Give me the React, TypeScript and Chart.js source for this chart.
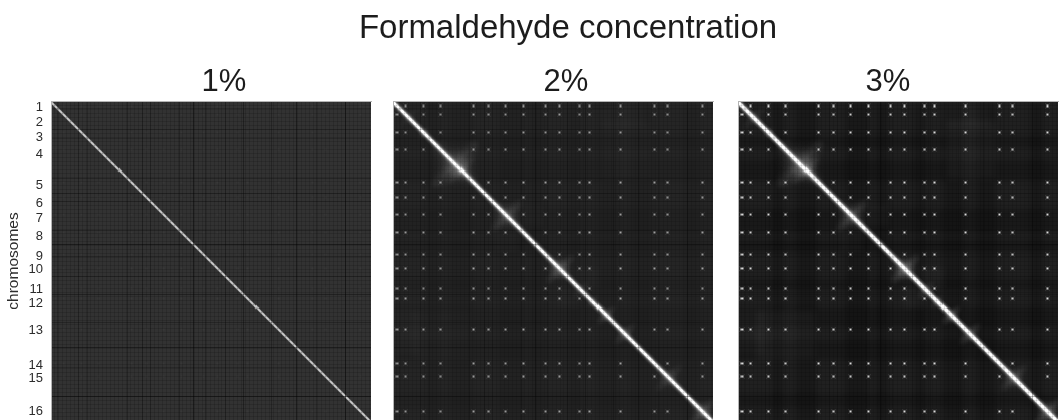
import React, { useEffect, useRef } from "react";
import { Chart, DatasetController, Element, registerables } from "chart.js";

Chart.register(...registerables);

// ---- genome layout (kb) ----
const chromosomes = ["1","2","3","4","5","6","7","8","9","10","11","12","13","14","15","16"];
const chromEndsKb = [230,1043,1359,2891,3468,3738,4829,5392,5832,6578,7245,8323,9247,10031,11122,12071];
const centromeresKb = [151,468,1157,1808,3042,3616,4235,4934,5747,6268,7018,7396,8591,9875,10357,11678];
const labelTicksKb = [189,754,1320,1961,3131,3810,4376,5055,5810,6301,7055,7583,8602,9923,10413,11658];
const genomeKb = 12071;
const visibleKb = 11996;
const fineStepKb = 150;
const binKb = 38;

// ---- per-panel readings ----
const panelNames = ["1%", "2%", "3%"];
const baseGrey = ["50,50,50", "37,37,37", "32,32,32"];
const diagonalProfiles = [
  [0.75, 0.6, 0.12],
  [1, 1, 0.7, 0.35, 0.16, 0.07, 0.03],
  [1, 1, 0.85, 0.45, 0.22, 0.1, 0.05],
];
const centromereDotPeak = [0.03, 0.6, 0.85];
const centromereGain2 = [0.9,0.9,0.9,0.95,1,1,0.95,1,0.95,1,0.95,1,1,0.95,1,0.95];
const centromereGain3 = [1,0.95,1,1,1,1,1,1,0.95,1,1,1,1,1,1,1];

const dotStencil = [
  [0.1,0.03,0.01,0.03,0.1],
  [0.03,0.3,0.5,0.3,0.03],
  [0.01,0.5,1,0.5,0.01],
  [0.03,0.3,0.5,0.3,0.03],
  [0.1,0.03,0.01,0.03,0.1],
];
const blobStencil = [
  [0.3,0.15,0.08,0.1,0.08,0.15,0.3],
  [0.15,0.45,0.3,0.25,0.3,0.45,0.15],
  [0.08,0.3,0.75,0.6,0.75,0.3,0.08],
  [0.1,0.25,0.6,1,0.6,0.25,0.1],
  [0.08,0.3,0.75,0.6,0.75,0.3,0.08],
  [0.15,0.45,0.3,0.25,0.3,0.45,0.15],
  [0.3,0.15,0.08,0.1,0.08,0.15,0.3],
];

// focal enrichment next to the diagonal: centre, half width, strength per panel
const blobCentreKb = [600,1170,2350,2560,3640,4300,6300,7090,7520,8050,8750,9680,10400,11680];
const blobHalfKb = [380,190,830,500,110,560,490,300,230,340,380,190,450,450];
const blobStrength1 = [0,0,0,0,0,0,0,0,0,0,0,0,0,0];
const blobStrength2 = [0.16,0.55,0.32,0.36,0.6,0.35,0.4,0.25,0.4,0.45,0.35,0.3,0.28,0.4];
const blobStrength3 = [0.25,0.6,0.36,0.45,0.65,0.42,0.52,0.38,0.5,0.55,0.4,0.32,0.4,0.48];

// darker bands that run along both axes
const bandStartKb = [1320,2190,4030,5200,6660,7730,8970,11000];
const bandEndKb = [1700,2950,4900,5650,7050,8480,9730,11500];
const bandDark = [0, 0.08, 0.2];

// faint wide rectangles away from the diagonal: x0,x1,y0,y1
const patchX0 = [7840,0,4800,6850];
const patchX1 = [9730,1000,5700,7800];
const patchY0 = [680,7800,3900,6200];
const patchY1 = [2940,9500,4700,7100];
const patchLight = [[0,0,0,0],[0.015,0.015,0.015,0.015],[0.035,0.02,0.025,0.025]];

// darkness of the lines between chromosomes
const boundaryAlpha1 = [0.2,0.2,0.2,0.25,0.25,0.2,0.25,0.45,0.25,0.25,0.32,0.25,0.42,0.2,0.45];
const boundaryAlpha2 = [0.15,0.15,0.15,0.2,0.2,0.15,0.2,0.35,0.2,0.2,0.25,0.2,0.3,0.15,0.3];
const boundaryAlpha3 = [0.1,0.1,0.1,0.12,0.12,0.1,0.15,0.35,0.12,0.12,0.15,0.12,0.2,0.1,0.2];
const fineAlpha = [0.13, 0.09, 0.1];

class CellElement extends Element {
  static id = "cell";
  static defaults = {};
  draw(ctx: any) {
    const e: any = this;
    ctx.fillRect(e.px, e.py, e.pw, e.ph);
  }
}

class HeatController extends DatasetController {
  static id = "heat";
  static defaults = { dataElementType: "cell", datasetElementType: false };
  static overrides = { scales: { x: { type: "linear" }, y: { type: "linear" } } };
  update() {
    const meta: any = this.getMeta();
    this.updateElements(meta.data, 0, meta.data.length);
  }
  updateElements(els: any[], start: number, count: number) {
    const meta: any = this.getMeta();
    const data: any[] = this.getDataset().data as any[];
    for (let i = start; i < start + count; i++) {
      const c = data[i];
      const x0 = Math.round(meta.xScale.getPixelForValue(c.x));
      const x1 = Math.round(meta.xScale.getPixelForValue(c.x2));
      const y0 = Math.round(meta.yScale.getPixelForValue(c.y));
      const y1 = Math.round(meta.yScale.getPixelForValue(c.y2));
      Object.assign(els[i], {
        x: x0, y: y0, px: x0, py: y0,
        pw: Math.max(1, x1 - x0), ph: Math.max(1, y1 - y0), v: c.v,
      });
    }
  }
  draw() {
    const ctx: any = (this as any).chart.ctx;
    const ds: any = this.getDataset();
    const meta: any = this.getMeta();
    ctx.save();
    if (ds.soft) ctx.filter = `blur(${ds.soft}px)`;
    for (const el of meta.data) {
      ctx.fillStyle = `rgba(${ds.ink},${el.v})`;
      el.draw(ctx);
    }
    ctx.restore();
  }
}
Chart.register(CellElement as any, HeatController as any);

function layers(p: number) {
  const white = "255,255,255";
  const diag: any[] = [];
  const prof = diagonalProfiles[p];
  for (let k = 0; k * binKb < genomeKb; k++) {
    const a = k * binKb;
    for (let d = -(prof.length - 1); d < prof.length; d++) {
      diag.push({ x: a + d * binKb, x2: a + (d + 1) * binKb, y: a, y2: a + binKb, v: prof[Math.abs(d)] });
    }
  }
  const gains = [centromereGain2, centromereGain2, centromereGain3][p];
  const dots: any[] = [];
  centromeresKb.forEach((cx, i) => centromeresKb.forEach((cy, j) => {
    if (i === j) return;
    dotStencil.forEach((row, r) => row.forEach((s, q) => {
      dots.push({
        x: cx + (q - 2.5) * binKb, x2: cx + (q - 1.5) * binKb,
        y: cy + (r - 2.5) * binKb, y2: cy + (r - 1.5) * binKb,
        v: s * centromereDotPeak[p] * gains[i] * gains[j],
      });
    }));
  }));
  const strengths = [blobStrength1, blobStrength2, blobStrength3][p];
  const blobs: any[] = [];
  blobCentreKb.forEach((c, b) => {
    if (!strengths[b]) return;
    const cell = (2 * blobHalfKb[b]) / 7;
    blobStencil.forEach((row, r) => row.forEach((s, q) => {
      blobs.push({
        x: c + (q - 3.5) * cell, x2: c + (q - 2.5) * cell,
        y: c + (r - 3.5) * cell, y2: c + (r - 2.5) * cell,
        v: s * strengths[b],
      });
    }));
  });
  const patches: any[] = [];
  patchX0.forEach((_, i) => {
    if (!patchLight[p][i]) return;
    patches.push({ x: patchX0[i], x2: patchX1[i], y: patchY0[i], y2: patchY1[i], v: patchLight[p][i] });
    patches.push({ x: patchY0[i], x2: patchY1[i], y: patchX0[i], y2: patchX1[i], v: patchLight[p][i] });
  });
  const bands: any[] = [];
  if (bandDark[p]) bandStartKb.forEach((s, i) => {
    bands.push({ x: s, x2: bandEndKb[i], y: 0, y2: genomeKb, v: bandDark[p] });
    bands.push({ x: 0, x2: genomeKb, y: s, y2: bandEndKb[i], v: bandDark[p] });
  });
  const base = [{ x: 0, x2: genomeKb, y: 0, y2: genomeKb, v: 1 }];
  return [
    { data: diag, ink: white, clip: 0 },
    { data: dots, ink: white, clip: 0, soft: 0.55 },
    { data: blobs, ink: white, clip: 0, soft: 2.5 },
    { data: patches, ink: white, clip: 0, soft: 3 },
    { data: bands, ink: "0,0,0", clip: 0, soft: 2 },
    { data: base, ink: baseGrey[p], clip: 0 },
  ];
}

// each canvas is centred on its heading; side gutters are empty axes
const geometry = [
  { left: 0, width: 448, gutterLeft: 51, gutterRight: 77 },
  { left: 385, width: 362, gutterLeft: 8, gutterRight: 34 },
  { left: 717, width: 342, gutterLeft: 21, gutterRight: 1 },
];

function gridTicks(extra: number[]) {
  const v = [...chromEndsKb.slice(0, -1), ...extra];
  for (let k = fineStepKb; k < genomeKb; k += fineStepKb) v.push(k);
  return v.sort((a, b) => a - b).map((value) => ({ value }));
}

function Panel({ index }: { index: number }) {
  const ref = useRef<HTMLCanvasElement>(null);
  useEffect(() => {
    const g = geometry[index];
    const boundary = [boundaryAlpha1, boundaryAlpha2, boundaryAlpha3][index];
    const gridColor = (ctx: any) => {
      const val = ctx.tick?.value;
      if (labelTicksKb.includes(val)) return "rgba(0,0,0,0)";
      const b = chromEndsKb.indexOf(val);
      if (b >= 0) return `rgba(0,0,0,${boundary[b]})`;
      return `rgba(0,0,0,${fineAlpha[index]})`;
    };
    const chart = new Chart(ref.current as any, {
      type: "heat" as any,
      data: { datasets: layers(index) as any },
      options: {
        animation: false,
        responsive: false,
        events: [],
        layout: { padding: 0 },
        plugins: {
          legend: { display: false },
          tooltip: { enabled: false },
          title: {
            display: true,
            text: panelNames[index],
            color: "#1c1c1c",
            font: { family: "'Liberation Sans'", size: 31, weight: "normal", lineHeight: 1.2 },
            padding: { top: 64, bottom: 0 },
          },
        },
        scales: {
          x: {
            type: "linear",
            position: "top",
            min: 0,
            max: genomeKb,
            afterBuildTicks: (s: any) => { s.ticks = gridTicks([]); },
            afterFit: (s: any) => { s.height = 0.8; s.paddingLeft = 0; s.paddingRight = 0; },
            ticks: { display: false, autoSkip: false },
            grid: { z: 1, color: gridColor, lineWidth: 1, drawTicks: false },
            border: { display: true, color: "#b4b4b4", width: 1, z: 2 },
          },
          y: {
            type: "linear",
            reverse: true,
            min: 0,
            max: visibleKb,
            afterBuildTicks: (s: any) => { s.ticks = gridTicks(index === 0 ? labelTicksKb : []); },
            afterFit: (s: any) => { s.width = g.gutterLeft; s.paddingTop = 0; s.paddingBottom = 0; },
            title: {
              display: index === 0,
              text: "chromosomes",
              color: "#2c2c2c",
              font: { family: "'Liberation Sans'", size: 15.5 },
              padding: { top: 4, bottom: 0 },
            },
            ticks: {
              display: index === 0,
              autoSkip: false,
              padding: 8,
              maxRotation: 0,
              color: "#2c2c2c",
              font: { family: "'Liberation Sans'", size: 13 },
              callback: (v: any) => {
                const i = labelTicksKb.indexOf(v);
                return i >= 0 ? chromosomes[i] : "";
              },
            },
            grid: { z: 1, color: gridColor, lineWidth: 1, drawTicks: false },
            border: { display: true, color: "#b4b4b4", width: 1, z: 2 },
          },
          gutter: {
            axis: "y",
            type: "linear",
            position: "right",
            min: 0,
            max: 1,
            afterFit: (s: any) => { s.width = g.gutterRight; s.paddingTop = 0; s.paddingBottom = 0; },
            ticks: { display: false },
            grid: { display: false },
            border: { display: false },
          },
        },
      } as any,
    });
    return () => chart.destroy();
  }, [index]);
  const g = geometry[index];
  return (
    <canvas
      ref={ref}
      width={g.width}
      height={420}
      style={{ position: "absolute", left: g.left, top: 0, width: g.width, height: 420, filter: "blur(0.45px)" }}
    />
  );
}

export default function App() {
  return (
    <div style={{ position: "fixed", left: 0, top: 0, width: 1059, height: 420, background: "#fff", overflow: "hidden" }}>
      <div style={{
        position: "absolute", left: 268, width: 600, top: 8, textAlign: "center",
        fontFamily: "'Liberation Sans'", fontSize: 33, lineHeight: "37px", color: "#1c1c1c", filter: "blur(0.3px)",
      }}>
        Formaldehyde concentration
      </div>
      {panelNames.map((_, i) => <Panel key={i} index={i} />)}
    </div>
  );
}
